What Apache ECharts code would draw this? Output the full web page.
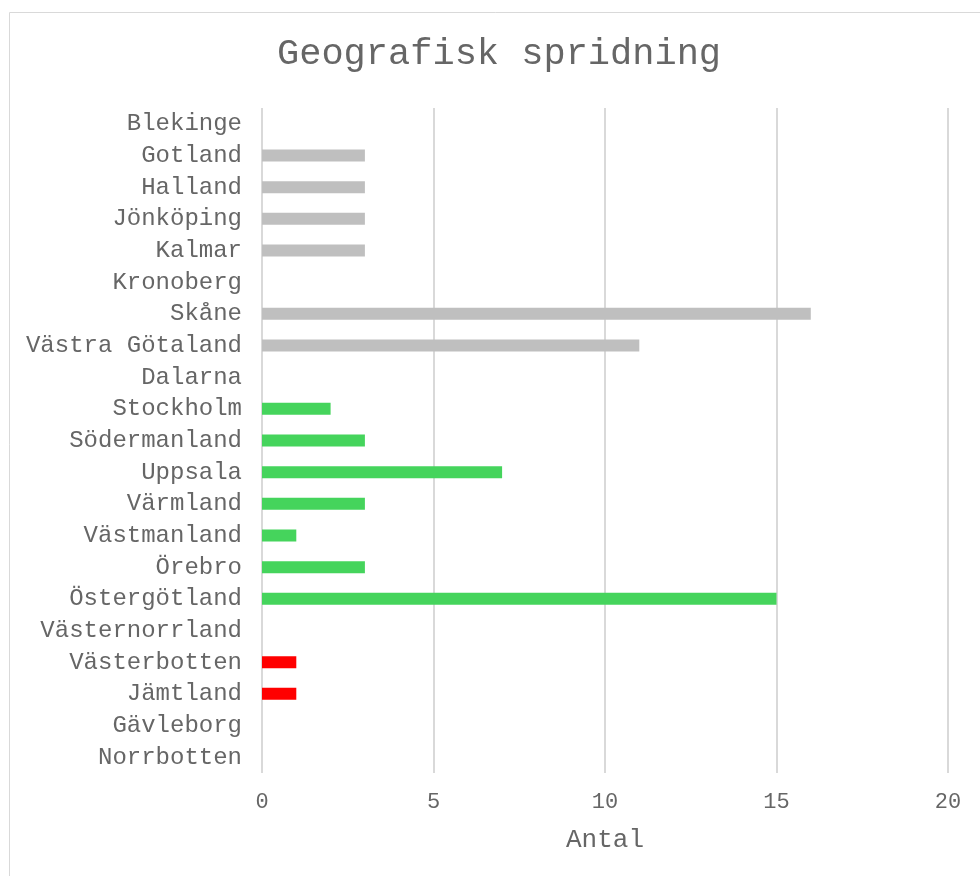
<!DOCTYPE html>
<html>
<head>
<meta charset="utf-8">
<script src="https://cdn.jsdelivr.net/npm/echarts@6/dist/echarts.min.js"></script>
<style>
  html, body { margin: 0; padding: 0; background: #fff; }
  #chart { width: 980px; height: 876px; }
</style>
</head>
<body>
<div id="chart"></div>
<script>
const categories = [
  "Blekinge", "Gotland", "Halland", "Jönköping", "Kalmar", "Kronoberg",
  "Skåne", "Västra Götaland", "Dalarna", "Stockholm", "Södermanland",
  "Uppsala", "Värmland", "Västmanland", "Örebro", "Östergötland",
  "Västernorrland", "Västerbotten", "Jämtland", "Gävleborg", "Norrbotten",
];
const values = [0, 3, 3, 3, 3, 0, 16, 11, 0, 2, 3, 7, 3, 1, 3, 15, 0, 1, 1, 0, 0];
// region group per category: 0 = south (grey), 1 = middle (green), 2 = north (red)
const groups = [0, 0, 0, 0, 0, 0, 0, 0, 1, 1, 1, 1, 1, 1, 1, 1, 2, 2, 2, 2, 2];
const groupColors = ["#bfbfbf", "#45d45c", "#ff0000"];
const xTicks = [0, 5, 10, 15, 20];

const font = "'Courier New', 'Liberation Mono', monospace";
const textColor = "#666666";

const chart = echarts.init(document.getElementById("chart"));

chart.setOption({
  animation: false,
  title: {
    text: "Geografisk spridning",
    left: 272,
    top: 31,
    textStyle: { fontFamily: font, fontSize: 37, fontWeight: "normal", color: textColor },
  },
  graphic: [
    {
      type: "rect",
      shape: { x: 9.5, y: 12.5, width: 1000, height: 1000 },
      style: { fill: "none", stroke: "#d9d9d9", lineWidth: 1 },
      silent: true,
    },
  ],
  grid: { left: 262, right: 32, top: 108, bottom: 103, containLabel: false },
  xAxis: {
    type: "value",
    min: xTicks[0],
    max: xTicks[xTicks.length - 1],
    interval: 5,
    name: "Antal",
    nameLocation: "middle",
    nameGap: 54,
    nameTextStyle: { fontFamily: font, fontSize: 26, color: textColor },
    axisLine: { show: false },
    axisTick: { show: false },
    axisLabel: { fontFamily: font, fontSize: 22, color: textColor, margin: 18 },
    splitLine: { lineStyle: { color: "#d9d9d9", width: 2 } },
  },
  yAxis: {
    type: "category",
    inverse: true,
    data: categories,
    axisLine: { show: false },
    axisTick: { show: false },
    axisLabel: { fontFamily: font, fontSize: 24, color: textColor, margin: 20 },
  },
  series: [
    {
      type: "bar",
      barWidth: 12,
      data: values.map((v, i) => ({
        value: v,
        itemStyle: { color: groupColors[groups[i]] },
      })),
    },
  ],
});
</script>
</body>
</html>
